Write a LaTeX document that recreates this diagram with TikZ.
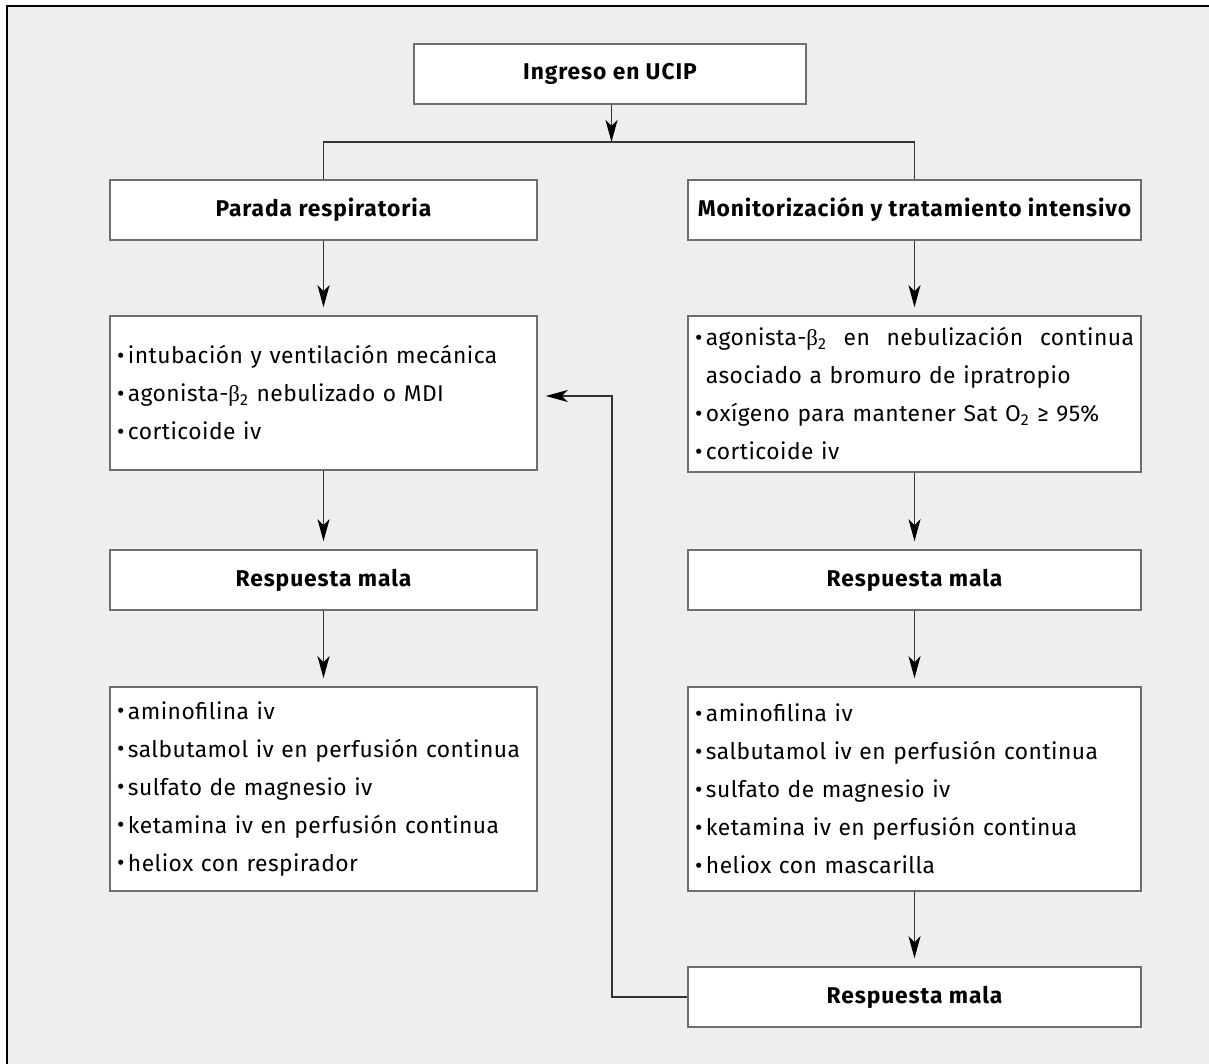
\documentclass[tikz,border=0pt]{standalone}
\usepackage{fontspec}
\setmainfont{Fira Sans}[LetterSpace=2]
\newfontfamily\headfont{Fira Sans}[LetterSpace=4]
\newfontfamily\grkfont{Liberation Serif}
\usetikzlibrary{arrows.meta}
\definecolor{panelgray}{HTML}{EEEEEE}
\definecolor{boxgray}{HTML}{6E6E6E}
\definecolor{linegray}{HTML}{333333}
\newcommand{\blt}{\raisebox{0.05ex}{•}\kern1.8pt}
\newcommand{\hblt}{\hphantom{\blt}}
\newcommand{\bet}{{\grkfont β}}
\begin{document}
\begin{tikzpicture}[x=0.5pt,y=-0.5pt,
  font=\fontsize{11.4}{19}\selectfont,
  box/.style={draw=boxgray, line width=0.75pt, fill=white, inner sep=0pt},
  head/.style={box, font=\fontsize{11.4}{19}\headfont\bfseries},
  listbox/.style={box, align=left, inner xsep=3.5pt, text width=#1},
  con/.style={draw=linegray, line width=0.75pt},
  arr/.style={con, -{Stealth[length=11pt,width=6pt,inset=3pt,color=black]}, shorten >=4pt}]
\useasboundingbox (0,0) rectangle (1209,1064);
\fill[panelgray] (7,6) rectangle (1215,1070);
\draw[black, line width=1pt] (7,1070) -- (7,6) -- (1215,6);

\node[head, minimum width=196pt, minimum height=30pt] (ing) at (610,74) {Ingreso en UCIP};
\node[head, minimum width=213.5pt, minimum height=30pt] (par) at (323.5,210) {Parada respiratoria};
\node[head, minimum width=226.5pt, minimum height=30pt] (mon) at (914.5,210) {Monitorización y tratamiento intensivo};

\node[listbox=206.5pt, minimum height=77pt] (l3) at (323.5,393)
 {\blt intubación y ventilación mecánica\\
  \blt agonista-\bet\textsubscript{2} nebulizado o MDI\\
  \blt corticoide iv};
\node[listbox=219.5pt, minimum height=78pt] (r3) at (914.5,394)
 {\makebox[\linewidth][l]{\blt agonista-\bet\textsubscript{2}\hfill en\hfill nebulización\hfill continua}\\
  \hblt asociado a bromuro de ipratropio\\
  \blt oxígeno para mantener Sat O\textsubscript{2} ≥ 95\%\\
  \blt corticoide iv};

\node[head, minimum width=213.5pt, minimum height=30pt] (rl) at (323.5,580) {Respuesta mala};
\node[head, minimum width=226.5pt, minimum height=30pt] (rr) at (914.5,580) {Respuesta mala};

\node[listbox=206.5pt, minimum height=102pt] (l5) at (323.5,789)
 {\blt aminofilina iv\\
  \blt salbutamol iv en perfusión continua\\
  \blt sulfato de magnesio iv\\
  \blt ketamina iv en perfusión continua\\
  \blt heliox con respirador};
\node[listbox=219.5pt, minimum height=102pt] (r5) at (914.5,789)
 {\blt aminofilina iv\\
  \blt salbutamol iv en perfusión continua\\
  \blt sulfato de magnesio iv\\
  \blt ketamina iv en perfusión continua\\
  \blt heliox con mascarilla};

\node[head, minimum width=226.5pt, minimum height=30pt] (fin) at (914.5,997) {Respuesta mala};

\coordinate (jn) at (611.5,142);
\coordinate (jl) at (323.5,142);
\coordinate (jr) at (914.5,142);
\coordinate (fb) at (612,396);

\draw[arr, shorten >=0pt] (ing.south -| jn) -- (jn);
\draw[con] (par.north) -- (jl) -- (jr) -- (mon.north);
\draw[arr] (par) -- (l3);
\draw[arr] (l3) -- (rl);
\draw[arr] (rl) -- (l5);
\draw[arr] (mon) -- (r3);
\draw[arr] (r3) -- (rr);
\draw[arr] (rr) -- (r5);
\draw[arr] (r5) -- (fin);
\draw[arr] (fin.west) -| (fb) -- (fb -| l3.east);
\end{tikzpicture}
\end{document}
